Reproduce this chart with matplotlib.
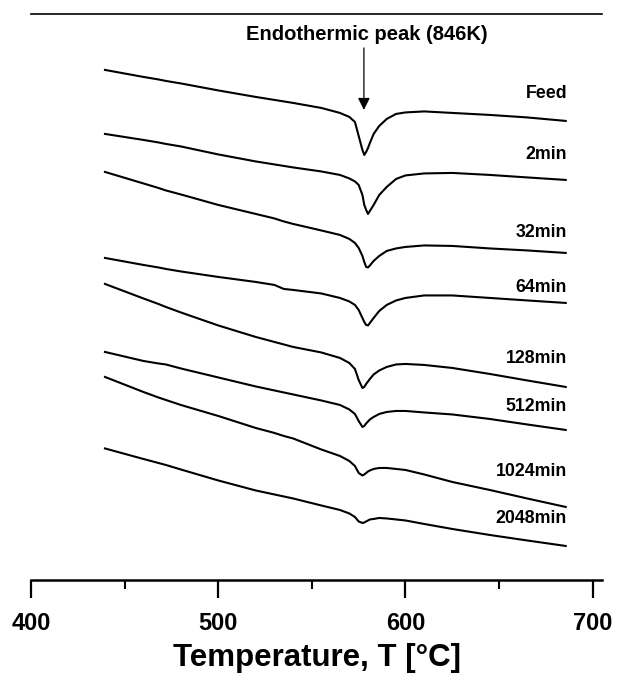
import matplotlib
matplotlib.use("Agg")
import matplotlib.pyplot as plt
from matplotlib.ticker import MultipleLocator

plt.rcParams['font.family'] = ['Liberation Sans', 'DejaVu Sans']
plt.rcParams['font.weight'] = 'bold'

# Temperature grid (deg C)
temperature = [439.5, 460, 468, 472, 480, 500, 520, 530, 535, 540, 555, 565,
               570, 573, 575, 577, 578, 579, 580, 581, 583, 586, 590, 595,
               600, 610, 625, 645, 665, 685.6]

# Heat flow (arbitrary units, offset curves)
feed = [51.0, 50.3, 50.05, 49.9, 49.65, 48.95, 48.3, 48.0, 47.85, 47.7, 47.2, 46.7,
        46.3, 45.8, 44.4, 43.0, 42.5, 42.8, 43.2, 43.7, 44.6, 45.4, 46.1, 46.6,
        46.75, 46.85, 46.7, 46.5, 46.25, 45.9]
min2 = [44.6, 44.0, 43.75, 43.6, 43.35, 42.55, 41.85, 41.55, 41.4, 41.25, 40.85, 40.5,
        40.15, 39.85, 39.5, 38.5, 37.5, 37.0, 36.6, 36.9, 37.5, 38.5, 39.3, 40.1,
        40.45, 40.65, 40.7, 40.5, 40.25, 40.0]
min32 = [40.8, 39.65, 39.2, 38.95, 38.55, 37.5, 36.6, 36.15, 35.85, 35.6, 34.95, 34.5,
         34.1, 33.7, 33.2, 32.4, 31.8, 31.3, 31.25, 31.45, 31.9, 32.4, 32.9, 33.15,
         33.3, 33.45, 33.4, 33.15, 32.95, 32.7]
min64 = [32.2, 31.5, 31.25, 31.1, 30.85, 30.3, 29.8, 29.5, 29.1, 29.0, 28.65, 28.2,
         27.85, 27.5, 27.0, 26.2, 25.8, 25.5, 25.45, 25.7, 26.2, 26.9, 27.5, 27.95,
         28.2, 28.45, 28.45, 28.2, 27.95, 27.7]
min128 = [29.6, 28.15, 27.6, 27.3, 26.75, 25.45, 24.3, 23.8, 23.55, 23.3, 22.75, 22.2,
          21.7, 21.1, 20.0, 19.2, 19.3, 19.6, 19.85, 20.1, 20.55, 20.95, 21.3, 21.55,
          21.6, 21.5, 21.2, 20.6, 19.95, 19.3]
min512 = [22.8, 21.9, 21.65, 21.55, 21.15, 20.25, 19.35, 18.95, 18.75, 18.55, 17.95, 17.5,
          17.05, 16.6, 15.9, 15.3, 15.4, 15.65, 15.85, 16.05, 16.3, 16.6, 16.8, 16.9,
          16.9, 16.75, 16.55, 16.1, 15.55, 15.0]
min1024 = [20.3, 18.8, 18.25, 18.0, 17.5, 16.4, 15.2, 14.7, 14.4, 14.15, 13.05, 12.4,
           11.9, 11.4, 10.7, 10.45, 10.55, 10.7, 10.85, 10.95, 11.1, 11.2, 11.2, 11.1,
           11.0, 10.55, 9.8, 9.0, 8.15, 7.3]
min2048 = [13.15, 12.1, 11.7, 11.5, 11.05, 9.95, 8.95, 8.55, 8.35, 8.15, 7.45, 7.0,
           6.65, 6.3, 5.85, 5.7, 5.75, 5.85, 5.95, 6.05, 6.1, 6.2, 6.15, 6.05,
           5.95, 5.6, 5.1, 4.5, 3.95, 3.4]

series_labels = ["Feed", "2min", "32min", "64min", "128min", "512min", "1024min", "2048min"]
series = [feed, min2, min32, min64, min128, min512, min1024, min2048]

x_ticks = [400, 500, 600, 700]
x_tick_labels = ["400", "500", "600", "700"]
annotation_text = "Endothermic peak (846K)"
peak_temperature = 577.8

# layout (label positions, in data coordinates)
label_x = 686.3
label_y = [48.6, 42.5, 34.7, 29.2, 22.1, 17.3, 10.8, 6.1]

fig = plt.figure(figsize=(6.18, 6.82), dpi=100)
ax = fig.add_axes([0.0502, 0.1496, 0.924, 0.830])

for vals in series:
    ax.plot(temperature, vals, color='black', lw=1.5, solid_joinstyle='round')

for lab, ly in zip(series_labels, label_y):
    ax.text(label_x, ly, lab, ha='right', va='center', fontsize=12.8,
            fontweight='bold')

ax.text(579.2, 54.5, annotation_text, ha='center', va='center',
        fontsize=14.5, fontweight='bold')
ax.annotate('', xy=(peak_temperature, 47.0), xytext=(peak_temperature, 53.2),
            arrowprops=dict(arrowstyle='-|>', lw=0.9, color='black',
                            mutation_scale=18, shrinkA=0, shrinkB=0))

ax.set_xlim(400, 705)
ax.set_ylim(0, 56.6)
ax.set_xticks(x_ticks)
ax.set_xticklabels(x_tick_labels)
ax.xaxis.set_minor_locator(MultipleLocator(50))
ax.tick_params(axis='x', which='major', direction='out', length=13, width=1.6,
               labelsize=17, pad=10)
ax.tick_params(axis='x', which='minor', direction='out', length=6.5, width=1.5)
ax.set_yticks([])
for s in ['left', 'right']:
    ax.spines[s].set_visible(False)
ax.spines['bottom'].set_linewidth(1.8)
ax.spines['top'].set_linewidth(1.2)
for lbl in ax.get_xticklabels():
    lbl.set_fontweight('bold')

ax.set_xlabel("Temperature, T [°C]", fontsize=22.5, fontweight='bold', labelpad=5.5)

fig.savefig("out.png", dpi=100)
